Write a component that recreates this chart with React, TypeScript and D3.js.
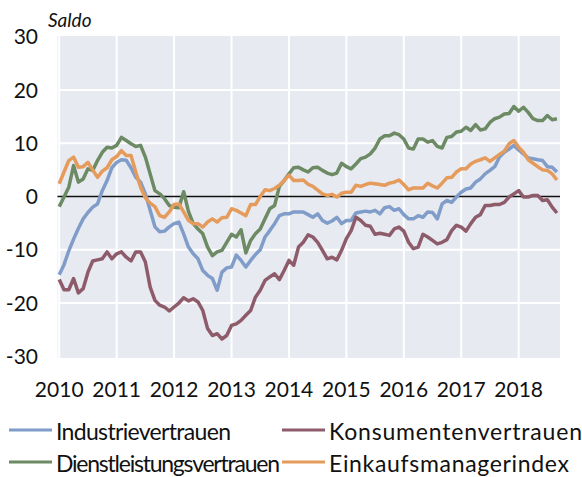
import React, { useEffect, useRef } from "react";
import * as d3 from "d3";

// monthly values, Jan 2010 .. Sep 2018
const industrie = [
  -14.7, -12.8, -10.2, -8, -6, -4.2, -3, -2, -1.4, 1.1, 3, 5.4,
  6.4, 6.9, 6.8, 5.4, 3.6, 2.7, 0.5, -2.6, -5.7, -6.6, -6.5, -5.7,
  -5.1, -4.8, -7, -9.5, -10.75, -11.7, -13.9, -14.8, -15.4, -17.6, -14.2, -13.4,
  -13.25, -11, -12, -13.25, -12, -10.9, -10, -7.6, -6.4, -5.1, -3.6, -3.25,
  -3.25, -2.9, -2.9, -2.9, -3.4, -3.9, -3.25, -4.5, -5, -4.6, -3.9, -5.1,
  -4.5, -4.5, -3.1, -2.9, -2.75, -2.9, -2.6, -3.25, -2.1, -1.9, -2.6, -2.3,
  -3.4, -4.2, -4.2, -3.6, -3.9, -2.9, -3, -4.2, -1.4, -0.75, -1.1, -0.1,
  0.8, 1.4, 1.6, 2.7, 3.3, 4.25, 4.9, 5.6, 7.4, 8.3, 8.9, 9.6,
  8.75, 8, 7.25, 7.1, 6.9, 6.75, 5.6, 5.5, 4.6,
];

const konsumenten = [
  -15.6, -17.5, -17.5, -15.4, -18.1, -17.3, -14.2, -12.1, -11.9, -11.7, -10.4, -11.7,
  -10.75, -10.4, -11.4, -12.1, -10.4, -10.4, -12.3, -17, -19.5, -20.4, -20.75, -21.5,
  -20.75, -20, -19, -19.6, -19.2, -19.8, -21.4, -24.8, -26.1, -25.75, -26.75, -26.1,
  -24.2, -23.9, -23.25, -22.3, -21.4, -18.9, -17.6, -15.75, -15.1, -14.5, -15.6, -13.9,
  -12, -12.9, -9.5, -8.6, -7.2, -7.6, -8.6, -10.1, -11.7, -11.4, -11.9, -10.1,
  -7.9, -6.4, -3.9, -4.5, -5.4, -5.6, -7.1, -6.9, -7.1, -7.3, -6.1, -5.75,
  -6.5, -8.6, -9.8, -9.5, -7.1, -7.6, -8.25, -8.9, -8.6, -8.1, -6.4, -5.4,
  -5.75, -6.5, -5.1, -3.9, -3.4, -1.7, -1.7, -1.5, -1.5, -1.1, -0.1, 0.5,
  1.1, -0.1, -0.1, 0.2, 0.2, -0.75, -0.6, -2, -3.1,
];

const dienstleistung = [
  -1.9, -0.1, 1.75, 5.8, 2.7, 3.3, 5.2, 4.9, 6.75, 8.3, 9.25, 9.1,
  9.6, 11.1, 10.5, 9.9, 9.4, 9.6, 7.4, 4.25, 1.1, 0.5, -0.4, -1.7,
  -2, -2.1, 0.9, -2.8, -5.1, -6.1, -7, -9.5, -11.1, -10.4, -10.1, -8.6,
  -7.1, -7.6, -6.25, -10.6, -8.25, -7, -6.1, -4.2, -2.3, -1.7, 1.9, 3,
  4.25, 5.4, 5.5, 5, 4.6, 5.4, 5.5, 4.9, 4.4, 4.1, 4.4, 6.25,
  5.6, 5.2, 6.1, 7.1, 7.4, 8, 9.1, 10.8, 11.4, 11.4, 11.9, 11.6,
  10.8, 9.1, 8.9, 10.8, 10.8, 10.2, 10.5, 9.4, 9.1, 11.1, 11.25, 12.1,
  12.25, 13, 12.4, 13.5, 12.5, 12.7, 13.9, 14.6, 14.9, 15.5, 15.6, 16.9,
  16, 16.75, 15.8, 14.6, 14.25, 14.25, 15.2, 14.4, 14.6,
];

const einkauf = [
  2.4, 4.6, 6.75, 7.4, 5.5, 5.6, 6.4, 5, 3.6, 4.75, 5.4, 6.9,
  7.5, 8.6, 7.7, 7.7, 4.6, 1.75, -0.25, -1.25, -1.9, -3.6, -3.9, -2.9,
  -1.5, -1.4, -2.9, -4.5, -5.1, -5.1, -5.75, -4.8, -4.2, -4.8, -4, -3.9,
  -2.3, -2.6, -3.1, -3.6, -1.5, -1.5, 0, 1.25, 1.1, 1.5, 2.1, 3,
  4, 3, 3, 3.1, 2.3, 1.9, 1.2, 0.5, 0.2, 0.4, -0.1, 0.6,
  0.8, 0.8, 2.1, 1.9, 2.25, 2.5, 2.4, 2.25, 2.1, 2.5, 2.7, 3.1,
  2.25, 1.25, 1.6, 1.6, 1.6, 2.5, 2, 1.6, 2.5, 3.5, 3.6, 4.6,
  5.2, 5.2, 6.1, 6.6, 6.9, 7.25, 6.6, 7.25, 7.9, 8.5, 9.9, 10.5,
  9.25, 8.3, 6.9, 6.25, 5.6, 5, 4.9, 4.25, 3.1,
];

const seriesNames = ["Industrievertrauen", "Konsumentenvertrauen", "Dienstleistungsvertrauen", "Einkaufsmanagerindex"];
const seriesValues = [industrie, konsumenten, dienstleistung, einkauf];
const seriesColors = ["#809cc9", "#8e5b6a", "#6c8a63", "#e59b5b"];

const yTicks = [-30, -20, -10, 0, 10, 20, 30];
const years = [2010, 2011, 2012, 2013, 2014, 2015, 2016, 2017, 2018];

const FONT = "Lato, 'Open Sans', sans-serif";

const Chart = () => {
  const svgRef = useRef(null);

  useEffect(() => {
    const width = 582, height = 477;
    const left = 57.5, right = 560, top = 36, bottom = 358;

    const svg = d3.select(svgRef.current)
      .attr("width", width)
      .attr("height", height);
    svg.selectAll("*").remove();

    const x = d3.scaleLinear().domain([2009.97, 2018.72]).range([left, right]);
    const y = d3.scaleLinear().domain([-30, 30]).range([356.3, 36.7]);

    svg.append("rect")
      .attr("x", left).attr("y", top)
      .attr("width", right - left).attr("height", bottom - top)
      .attr("fill", "#e8eaf1");

    // grid
    svg.append("g").selectAll("line")
      .data(yTicks.filter(d => d !== 0 && Math.abs(d) < 30))
      .enter().append("line")
      .attr("x1", left).attr("x2", right)
      .attr("y1", d => y(d)).attr("y2", d => y(d))
      .attr("stroke", "#fff").attr("stroke-width", 2);

    svg.append("g").selectAll("line")
      .data(years)
      .enter().append("line")
      .attr("x1", d => x(d)).attr("x2", d => x(d))
      .attr("y1", top).attr("y2", bottom)
      .attr("stroke", "#fff").attr("stroke-width", 2);

    svg.append("line")
      .attr("x1", left).attr("x2", right)
      .attr("y1", y(0)).attr("y2", y(0))
      .attr("stroke", "#111").attr("stroke-width", 1.6);

    const line = d3.line<number>()
      .x((d, i) => x(2010 + i / 12))
      .y(d => y(d));

    svg.append("g").selectAll("path")
      .data(seriesValues)
      .enter().append("path")
      .attr("d", d => line(d))
      .attr("fill", "none")
      .attr("stroke", (d, i) => seriesColors[i])
      .attr("stroke-width", 3.5)
      .attr("stroke-linejoin", "round");

    // axis labels
    svg.append("g").selectAll("text")
      .data(yTicks)
      .enter().append("text")
      .attr("x", 38)
      .attr("y", d => y(d))
      .attr("dy", "0.36em")
      .attr("text-anchor", "end")
      .attr("font-family", FONT)
      .attr("font-size", 21)
      .attr("fill", "#111")
      .text(d => d);

    svg.append("g").selectAll("text")
      .data(years)
      .enter().append("text")
      .attr("x", d => x(d))
      .attr("y", 396.5)
      .attr("text-anchor", "middle")
      .attr("font-family", FONT)
      .attr("font-size", 21)
      .attr("fill", "#111")
      .text(d => d);

    svg.append("text")
      .attr("x", 48)
      .attr("y", 27)
      .attr("font-family", FONT)
      .attr("font-style", "italic")
      .attr("font-size", 19)
      .attr("fill", "#111")
      .text("Saldo");

    // legend
    const legendPos = [
      { lx: 9, ty: 440, tw: 175 },
      { lx: 282, ty: 440, tw: 253 },
      { lx: 9, ty: 472, tw: 224 },
      { lx: 282, ty: 472, tw: 240 },
    ];
    const legend = svg.append("g").selectAll("g")
      .data(seriesNames)
      .enter().append("g");

    legend.append("line")
      .attr("x1", (d, i) => legendPos[i].lx)
      .attr("x2", (d, i) => legendPos[i].lx + 43)
      .attr("y1", (d, i) => legendPos[i].ty - 10)
      .attr("y2", (d, i) => legendPos[i].ty - 10)
      .attr("stroke", (d, i) => seriesColors[i])
      .attr("stroke-width", 3);

    legend.append("text")
      .attr("x", (d, i) => legendPos[i].lx + 47)
      .attr("y", (d, i) => legendPos[i].ty)
      .attr("textLength", (d, i) => legendPos[i].tw)
      .attr("lengthAdjust", "spacing")
      .attr("font-family", FONT)
      .attr("font-size", 23)
      .attr("fill", "#111")
      .text(d => d);
  }, []);

  return <svg ref={svgRef} style={{ position: "absolute", left: 0, top: 0 }}></svg>;
};

export default function App() {
  return <Chart />;
}
